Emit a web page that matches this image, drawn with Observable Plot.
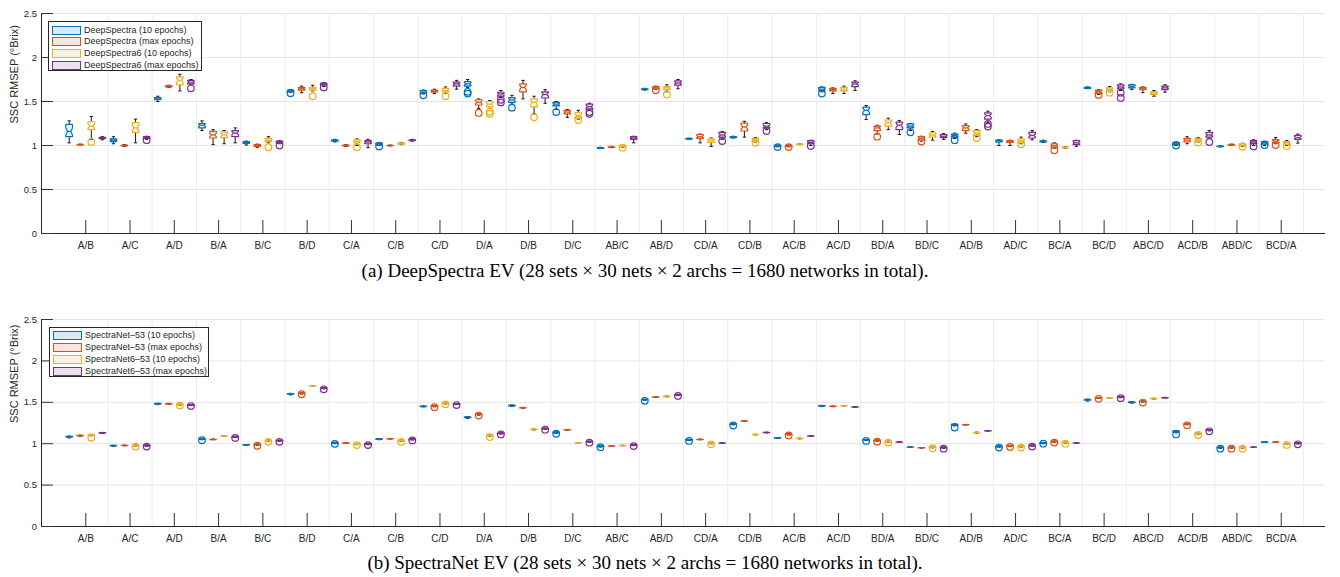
<!DOCTYPE html>
<html>
<head>
<meta charset="utf-8">
<script src="https://cdn.jsdelivr.net/npm/d3@7"></script>
<script src="https://cdn.jsdelivr.net/npm/@observablehq/plot@0.6"></script>
<style>
  body { margin: 0; background: #fff; }
  #page { position: relative; width: 1340px; height: 577px; overflow: hidden; background: #fff;
          font-family: "Liberation Sans", Arial, Helvetica, sans-serif; }
  .panel { position: absolute; left: 0; }
  .caption { position: absolute; left: 0; width: 1290px; text-align: center; line-height: 20px;
             font-family: "Liberation Serif", "Times New Roman", serif; font-size: 19px; color: #000; }
  .legend { position: absolute; box-sizing: border-box; border: 1px solid #262626; background: #fff; }
  .legend .sw { position: absolute; left: 3px; width: 29px; height: 9px; box-sizing: border-box; border: 1.3px solid; }
  .legend .lt { position: absolute; left: 35px; line-height: 12px; font-size: 9px; white-space: nowrap; color: #262626; }
</style>
</head>
<body>
<div id="page"></div>
<script>
// ---- categories (training sets / test set) ----
const categories = ["A/B","A/C","A/D","B/A","B/C","B/D","C/A","C/B","C/D","D/A","D/B","D/C",
  "AB/C","AB/D","CD/A","CD/B","AC/B","AC/D","BD/A","BD/C","AD/B","AD/C","BC/A","BC/D",
  "ABC/D","ACD/B","ABD/C","BCD/A"];

const seriesColors = ["#0072BD", "#D95319", "#EDB120", "#7E2F8E"];
const legendFills = ["rgba(0,114,189,0.15)", "rgba(217,83,25,0.15)", "rgba(237,177,32,0.15)", "rgba(126,47,142,0.15)"];
const dsLabels = ["DeepSpectra (10 epochs)", "DeepSpectra (max epochs)", "DeepSpectra6 (10 epochs)", "DeepSpectra6 (max epochs)"];
const snLabels = ["SpectraNet\u201353 (10 epochs)", "SpectraNet\u201353 (max epochs)", "SpectraNet6\u201353 (10 epochs)", "SpectraNet6\u201353 (max epochs)"];
const yTicks = [0, 0.5, 1, 1.5, 2, 2.5];
const yLabel = "SSC RMSEP (\u00B0Brix)";

// ---- DeepSpectra: [lower whisker, q1, median, q3, upper whisker] per category ----
const ds10 = [
  [1.03,1.10,1.16,1.24,1.28],[1.02,1.045,1.06,1.075,1.10],[1.50,1.52,1.53,1.545,1.56],[1.17,1.20,1.23,1.25,1.28],
  [1.005,1.025,1.035,1.045,1.05],[1.605,1.61,1.62,1.63,1.635],[1.04,1.05,1.057,1.065,1.07],[1.0,1.005,1.015,1.03,1.035],
  [1.585,1.595,1.605,1.625,1.63],[1.66,1.675,1.70,1.725,1.75],[1.47,1.49,1.52,1.545,1.57],[1.41,1.45,1.47,1.49,1.50],
  [0.965,0.968,0.972,0.976,0.98],[1.63,1.635,1.64,1.645,1.65],[1.07,1.073,1.077,1.08,1.083],[1.085,1.09,1.095,1.10,1.105],
  [0.985,0.99,0.995,1.0,1.005],[1.61,1.625,1.64,1.66,1.665],[1.295,1.35,1.40,1.435,1.455],[1.17,1.20,1.22,1.245,1.25],
  [1.08,1.095,1.115,1.13,1.14],[1.0,1.04,1.05,1.06,1.065],[1.035,1.04,1.047,1.053,1.06],[1.645,1.65,1.655,1.66,1.665],
  [1.635,1.655,1.67,1.69,1.695],[1.0,1.01,1.025,1.035,1.04],[0.985,0.988,0.99,0.993,0.995],[1.0,1.015,1.03,1.045,1.05]
];
const dsMax = [
  [1.005,1.008,1.01,1.013,1.015],[0.99,0.995,1.0,1.005,1.01],[1.66,1.665,1.67,1.68,1.685],[1.01,1.085,1.12,1.16,1.18],
  [0.98,0.99,1.0,1.01,1.015],[1.60,1.63,1.645,1.66,1.675],[0.99,0.995,1.0,1.005,1.01],[0.995,0.998,1.0,1.003,1.005],
  [1.59,1.605,1.615,1.63,1.64],[1.42,1.46,1.49,1.52,1.53],[1.53,1.61,1.66,1.70,1.74],[1.32,1.36,1.38,1.40,1.41],
  [0.975,0.978,0.982,0.985,0.99],[1.64,1.642,1.655,1.67,1.675],[1.03,1.08,1.10,1.125,1.13],[1.095,1.165,1.21,1.255,1.275],
  [0.985,0.99,0.995,1.0,1.005],[1.59,1.62,1.635,1.65,1.655],[1.13,1.17,1.20,1.22,1.23],[1.05,1.06,1.08,1.10,1.105],
  [1.14,1.17,1.20,1.225,1.245],[1.0,1.035,1.045,1.055,1.06],[0.97,0.98,1.0,1.02,1.03],[1.58,1.59,1.61,1.63,1.635],
  [1.60,1.635,1.65,1.66,1.665],[1.02,1.04,1.06,1.08,1.10],[1.0,1.003,1.008,1.013,1.015],[1.02,1.03,1.05,1.068,1.09]
];
const ds6_10 = [
  [1.07,1.18,1.22,1.27,1.33],[1.03,1.15,1.20,1.26,1.30],[1.62,1.69,1.74,1.78,1.81],[1.02,1.09,1.12,1.155,1.17],
  [1.03,1.045,1.06,1.08,1.10],[1.62,1.63,1.645,1.66,1.685],[1.00,1.03,1.045,1.065,1.075],[1.01,1.015,1.023,1.03,1.035],
  [1.59,1.61,1.625,1.65,1.665],[1.42,1.44,1.47,1.50,1.51],[1.36,1.44,1.49,1.53,1.56],[1.30,1.31,1.34,1.375,1.40],
  [0.98,0.985,0.992,1.0,1.005],[1.61,1.635,1.655,1.67,1.69],[0.99,1.035,1.055,1.075,1.085],[1.04,1.045,1.06,1.08,1.09],
  [1.01,1.012,1.015,1.018,1.02],[1.59,1.62,1.64,1.66,1.675],[1.18,1.22,1.26,1.29,1.31],[1.06,1.095,1.12,1.145,1.16],
  [1.10,1.115,1.14,1.17,1.18],[1.02,1.03,1.05,1.075,1.095],[0.97,0.973,0.977,0.982,0.985],[1.61,1.615,1.635,1.655,1.67],
  [1.56,1.58,1.595,1.61,1.625],[1.04,1.045,1.06,1.08,1.09],[0.99,0.995,1.005,1.02,1.025],[1.0,1.01,1.03,1.045,1.057]
];
const ds6Max = [
  [1.065,1.077,1.085,1.092,1.10],[1.07,1.08,1.09,1.10,1.105],[1.69,1.70,1.72,1.74,1.75],[1.03,1.10,1.14,1.17,1.20],
  [1.02,1.025,1.035,1.05,1.055],[1.67,1.685,1.70,1.71,1.715],[0.975,1.02,1.04,1.055,1.07],[1.05,1.055,1.06,1.065,1.07],
  [1.64,1.675,1.70,1.72,1.74],[1.545,1.56,1.585,1.605,1.625],[1.48,1.54,1.58,1.61,1.635],[1.40,1.41,1.44,1.47,1.48],
  [1.03,1.07,1.085,1.10,1.105],[1.645,1.685,1.71,1.735,1.75],[1.07,1.095,1.12,1.15,1.16],[1.18,1.20,1.22,1.25,1.26],
  [1.0,1.02,1.035,1.055,1.06],[1.625,1.67,1.70,1.72,1.735],[1.125,1.18,1.23,1.265,1.285],[1.07,1.09,1.105,1.125,1.135],
  [1.26,1.30,1.34,1.37,1.39],[1.065,1.085,1.115,1.15,1.17],[0.99,1.01,1.03,1.055,1.06],[1.625,1.645,1.665,1.69,1.70],
  [1.606,1.635,1.655,1.675,1.69],[1.08,1.095,1.12,1.15,1.17],[1.0,1.02,1.04,1.055,1.065],[1.027,1.07,1.09,1.115,1.13]
];
// outliers as [category index, value]
const ds10Out = [[5,1.595],[7,0.99],[8,1.57],[9,1.61],[9,1.59],[10,1.43],[11,1.38],[16,0.982],[17,1.59],[19,1.15],[20,1.06],[25,1.0],[27,1.005]];
const dsMaxOut = [[9,1.37],[13,1.627],[16,0.982],[18,1.10],[19,1.045],[22,0.945],[23,1.575],[27,1.005]];
const ds6_10Out = [[0,1.04],[4,0.98],[5,1.56],[6,0.98],[8,1.56],[9,1.385],[9,1.36],[10,1.32],[11,1.29],[12,0.975],[13,1.58],
  [15,1.03],[20,1.085],[21,1.015],[23,1.60],[25,1.035],[26,0.985],[27,0.995]];
const ds6MaxOut = [[1,1.06],[2,1.65],[4,1.0],[5,1.66],[9,1.52],[9,1.49],[11,1.38],[11,1.36],[14,1.05],[15,1.165],[16,0.995],
  [20,1.245],[20,1.215],[23,1.60],[23,1.54],[25,1.04],[26,0.99]];

// ---- SpectraNet-53: [lower whisker, q1, median, q3, upper whisker] per category ----
const sn10 = [
  [1.07,1.08,1.085,1.09,1.093],[0.968,0.972,0.976,0.979,0.981],[1.472,1.478,1.482,1.486,1.488],[1.048,1.052,1.056,1.06,1.062],
  [0.978,0.982,0.985,0.988,0.99],[1.59,1.598,1.602,1.606,1.608],[1.0,1.005,1.01,1.014,1.016],[1.048,1.053,1.057,1.061,1.063],
  [1.445,1.448,1.451,1.454,1.456],[1.305,1.315,1.32,1.325,1.328],[1.45,1.456,1.46,1.465,1.467],[1.125,1.13,1.135,1.14,1.142],
  [0.96,0.965,0.97,0.974,0.976],[1.525,1.528,1.532,1.536,1.538],[1.04,1.043,1.047,1.05,1.052],[1.228,1.232,1.237,1.242,1.246],
  [1.063,1.067,1.07,1.073,1.075],[1.448,1.455,1.458,1.461,1.463],[1.038,1.042,1.046,1.05,1.052],[0.955,0.957,0.959,0.961,0.962],
  [1.215,1.222,1.23,1.236,1.24],[0.958,0.962,0.966,0.97,0.972],[1.0,1.005,1.009,1.013,1.015],[1.515,1.525,1.53,1.535,1.538],
  [1.49,1.497,1.5,1.504,1.507],[1.13,1.14,1.148,1.155,1.16],[0.945,0.95,0.954,0.958,0.96],[1.015,1.017,1.019,1.021,1.022]
];
const snMax = [
  [1.09,1.093,1.097,1.10,1.103],[0.975,0.977,0.979,0.981,0.983],[1.475,1.479,1.482,1.485,1.487],[1.048,1.05,1.052,1.054,1.056],
  [0.98,0.985,0.99,0.994,0.996],[1.6,1.605,1.61,1.614,1.616],[1.003,1.005,1.007,1.009,1.011],[1.055,1.058,1.06,1.062,1.064],
  [1.445,1.45,1.455,1.459,1.461],[1.345,1.35,1.355,1.36,1.362],[1.428,1.431,1.434,1.437,1.439],[1.163,1.166,1.168,1.17,1.172],
  [0.967,0.969,0.971,0.973,0.974],[1.56,1.562,1.564,1.566,1.567],[1.048,1.05,1.052,1.054,1.055],[1.268,1.271,1.274,1.277,1.279],
  [1.105,1.11,1.116,1.12,1.123],[1.446,1.449,1.451,1.453,1.455],[1.03,1.035,1.039,1.043,1.045],[0.946,0.948,0.95,0.952,0.953],
  [1.226,1.228,1.23,1.232,1.233],[0.965,0.97,0.974,0.978,0.98],[1.018,1.022,1.026,1.03,1.032],[1.545,1.55,1.554,1.558,1.56],
  [1.503,1.507,1.511,1.515,1.517],[1.228,1.233,1.238,1.243,1.246],[0.945,0.95,0.954,0.958,0.96],[1.016,1.018,1.02,1.022,1.023]
];
const sn6_10 = [
  [1.095,1.1,1.105,1.11,1.113],[0.97,0.974,0.978,0.982,0.984],[1.465,1.469,1.473,1.477,1.479],[1.088,1.091,1.093,1.095,1.097],
  [1.028,1.033,1.037,1.041,1.043],[1.693,1.695,1.697,1.699,1.70],[0.988,0.993,0.997,1.001,1.003],[1.028,1.033,1.037,1.041,1.043],
  [1.48,1.485,1.489,1.493,1.495],[1.09,1.095,1.1,1.104,1.106],[1.166,1.169,1.172,1.175,1.177],[1.003,1.005,1.007,1.009,1.011],
  [0.975,0.977,0.978,0.98,0.981],[1.566,1.569,1.572,1.575,1.577],[0.998,1.002,1.006,1.01,1.012],[1.106,1.108,1.11,1.112,1.114],
  [1.058,1.061,1.063,1.065,1.067],[1.454,1.456,1.458,1.46,1.462],[1.018,1.022,1.026,1.03,1.032],[0.95,0.954,0.958,0.962,0.964],
  [1.128,1.132,1.135,1.138,1.14],[0.958,0.962,0.966,0.97,0.972],[1.005,1.009,1.013,1.017,1.019],[1.547,1.55,1.552,1.555,1.557],
  [1.538,1.541,1.544,1.547,1.549],[1.11,1.115,1.12,1.125,1.128],[0.945,0.95,0.954,0.958,0.96],[0.99,0.995,0.999,1.003,1.005]
];
const sn6Max = [
  [1.125,1.128,1.131,1.134,1.136],[0.97,0.974,0.978,0.982,0.984],[1.46,1.464,1.468,1.472,1.474],[1.075,1.079,1.083,1.087,1.089],
  [1.028,1.033,1.037,1.041,1.043],[1.662,1.667,1.671,1.675,1.677],[0.988,0.993,0.997,1.001,1.003],[1.045,1.05,1.054,1.058,1.06],
  [1.472,1.476,1.48,1.484,1.486],[1.117,1.121,1.125,1.129,1.131],[1.174,1.178,1.182,1.186,1.188],[1.017,1.021,1.025,1.029,1.031],
  [0.976,0.98,0.984,0.988,0.99],[1.582,1.586,1.59,1.594,1.596],[1.004,1.006,1.007,1.009,1.01],[1.13,1.133,1.135,1.137,1.139],
  [1.088,1.09,1.092,1.094,1.096],[1.438,1.44,1.442,1.444,1.446],[1.016,1.018,1.019,1.021,1.022],[0.945,0.95,0.954,0.958,0.96],
  [1.152,1.154,1.156,1.158,1.16],[0.97,0.974,0.978,0.982,0.984],[1.004,1.006,1.007,1.009,1.01],[1.555,1.56,1.564,1.568,1.57],
  [1.552,1.554,1.556,1.558,1.56],[1.155,1.16,1.164,1.168,1.17],[0.955,0.957,0.958,0.96,0.961],[0.998,1.002,1.006,1.01,1.012]
];
const sn10Out = [[3,1.043],[6,0.998],[11,1.12],[12,0.958],[13,1.518],[14,1.033],[15,1.22],[18,1.033],[20,1.195],[21,0.953],
  [22,1.0],[25,1.112],[26,0.94]];
const snMaxOut = [[4,0.975],[5,1.597],[8,1.44],[9,1.34],[16,1.1],[18,1.025],[21,0.96],[22,1.013],[23,1.542],[24,1.497],[25,1.222],[26,0.94]];
const sn6_10Out = [[0,1.072],[1,0.965],[2,1.46],[4,1.023],[6,0.983],[7,1.023],[8,1.475],[9,1.08],[14,0.993],[18,1.013],[19,0.945],
  [21,0.953],[22,1.0],[25,1.105],[26,0.94],[27,0.985]];
const sn6MaxOut = [[1,0.965],[2,1.455],[3,1.07],[4,1.023],[5,1.657],[6,0.983],[7,1.04],[8,1.467],[9,1.112],[10,1.169],[11,1.012],
  [12,0.971],[13,1.577],[19,0.94],[21,0.965],[23,1.55],[25,1.15],[27,0.993]];

// ---- drawing ----
const page = document.getElementById("page");
const W = 1340, mL = 41, mR = 15;
const xDomain = [0, categories.length + 1];
const groupOffsets = [-0.375, -0.125, 0.125, 0.375];
const boxHalf = 0.075;          // half box width in category units
const axisColor = "#262626";

function boxPanel({stats, outliers, height, marginTop, marginBottom}) {
  const pxX = (W - mL - mR) / (xDomain[1] - xDomain[0]);
  const pxY = (height - marginTop - marginBottom) / 2.5;
  const marks = [
    Plot.ruleY(yTicks.slice(1), {stroke: "#e6e6e6", strokeWidth: 1}),
    Plot.ruleX(d3.range(1.5, categories.length + 1, 1), {stroke: "#ececec", strokeWidth: 1})
  ];
  stats.forEach((rows, s) => {
    const col = seriesColors[s];
    const boxes = rows.map(([lo, q1, med, q3, hi], i) => ({
      key: i, c: i + 1 + groupOffsets[s], lo, q1, med, q3, hi,
      notch: 1.57 * (q3 - q1) / Math.sqrt(30)
    }));
    // notched outline, traced around each box
    const outline = boxes.flatMap(b => {
      const L = b.c - boxHalf, R = b.c + boxHalf, l = b.c - boxHalf / 2, r = b.c + boxHalf / 2;
      const nlo = b.med - b.notch, nhi = b.med + b.notch;
      return [[L, b.q1], [L, nlo], [l, b.med], [L, nhi], [L, b.q3], [R, b.q3], [R, nhi], [r, b.med], [R, nlo], [R, b.q1], [L, b.q1]]
        .map(([x, y]) => ({key: b.key, x, y}));
    });
    marks.push(
      Plot.link(boxes, {x1: "c", x2: "c", y1: "q3", y2: "hi", stroke: "#1a1a1a", strokeWidth: 1}),
      Plot.link(boxes, {x1: "c", x2: "c", y1: "q1", y2: "lo", stroke: "#1a1a1a", strokeWidth: 1}),
      Plot.link(boxes, {x1: d => d.c - boxHalf / 2, x2: d => d.c + boxHalf / 2, y1: "hi", y2: "hi", stroke: "#1a1a1a", strokeWidth: 1}),
      Plot.link(boxes, {x1: d => d.c - boxHalf / 2, x2: d => d.c + boxHalf / 2, y1: "lo", y2: "lo", stroke: "#1a1a1a", strokeWidth: 1}),
      Plot.line(outline, {x: "x", y: "y", z: "key", stroke: col, fill: col, fillOpacity: 0.07, strokeWidth: 1.2,
        strokeLinejoin: "miter", curve: "linear"}),
      Plot.link(boxes, {x1: d => d.c - boxHalf / 2, x2: d => d.c + boxHalf / 2, y1: "med", y2: "med", stroke: col, strokeWidth: 1.2}),
      Plot.dot(outliers[s], {x: d => d[0] + 1 + groupOffsets[s], y: d => d[1], r: 3.3, stroke: col, fill: "none", strokeWidth: 1.2})
    );
  });
  marks.push(
    Plot.ruleY([0], {stroke: axisColor, strokeWidth: 1}),
    Plot.ruleX([0], {stroke: axisColor, strokeWidth: 1}),
    Plot.ruleX(d3.range(1, categories.length + 1), {y1: 0, y2: 13 / pxY, stroke: "#333", strokeWidth: 1}),
    Plot.ruleY(yTicks, {x1: 0, x2: 12 / pxX, stroke: "#333", strokeWidth: 1}),
    Plot.text(categories, {x: (d, i) => i + 1, y: 0, dy: 12, text: d => d, fontSize: 10, fill: axisColor}),
    Plot.text(yTicks, {x: 0, y: d => d, dx: -4.5, text: d => String(d), textAnchor: "end", fontSize: 9.5, fill: axisColor}),
    Plot.text([yLabel], {frameAnchor: "left", rotate: -90, dx: -27, text: d => d, fontSize: 11, fill: axisColor})
  );
  return Plot.plot({
    width: W, height, marginLeft: mL, marginRight: mR, marginTop, marginBottom,
    x: {domain: xDomain, axis: null},
    y: {domain: [0, 2.5], axis: null},
    style: {fontFamily: "'Liberation Sans', Arial, Helvetica, sans-serif", background: "transparent", overflow: "visible"},
    marks
  });
}

function addLegend(labels, box) {
  const el = document.createElement("div");
  el.className = "legend";
  Object.assign(el.style, {left: box.left + "px", top: box.top + "px", width: box.width + "px", height: box.height + "px"});
  labels.forEach((t, s) => {
    const cy = box.firstRow + s * box.rowStep;
    const sw = document.createElement("div");
    sw.className = "sw";
    sw.style.top = (cy - 4.5) + "px";
    sw.style.borderColor = seriesColors[s];
    sw.style.background = legendFills[s];
    const tx = document.createElement("div");
    tx.className = "lt";
    tx.style.top = (cy - 6.5) + "px";
    tx.textContent = t;
    el.append(sw, tx);
  });
  page.append(el);
}

function addCaption(text, top) {
  const el = document.createElement("div");
  el.className = "caption";
  el.style.top = top + "px";
  el.textContent = text;
  page.append(el);
}

const p1 = boxPanel({stats: [ds10, dsMax, ds6_10, ds6Max], outliers: [ds10Out, dsMaxOut, ds6_10Out, ds6MaxOut],
  height: 258, marginTop: 13, marginBottom: 25});
p1.classList.add("panel"); p1.style.top = "0px";
page.append(p1);
addCaption("(a) DeepSpectra EV (28 sets \u00D7 30 nets \u00D7 2 archs = 1680 networks in total).", 261);

const p2 = boxPanel({stats: [sn10, snMax, sn6_10, sn6Max], outliers: [sn10Out, snMaxOut, sn6_10Out, sn6MaxOut],
  height: 256, marginTop: 23, marginBottom: 26});
p2.classList.add("panel"); p2.style.top = "296px";
page.append(p2);
addCaption("(b) SpectraNet EV (28 sets \u00D7 30 nets \u00D7 2 archs = 1680 networks in total).", 553);

addLegend(dsLabels, {left: 48, top: 21, width: 154, height: 50, firstRow: 8, rowStep: 11.9});
addLegend(snLabels, {left: 49, top: 327, width: 160, height: 50, firstRow: 7.5, rowStep: 11.9});
</script>
</body>
</html>
